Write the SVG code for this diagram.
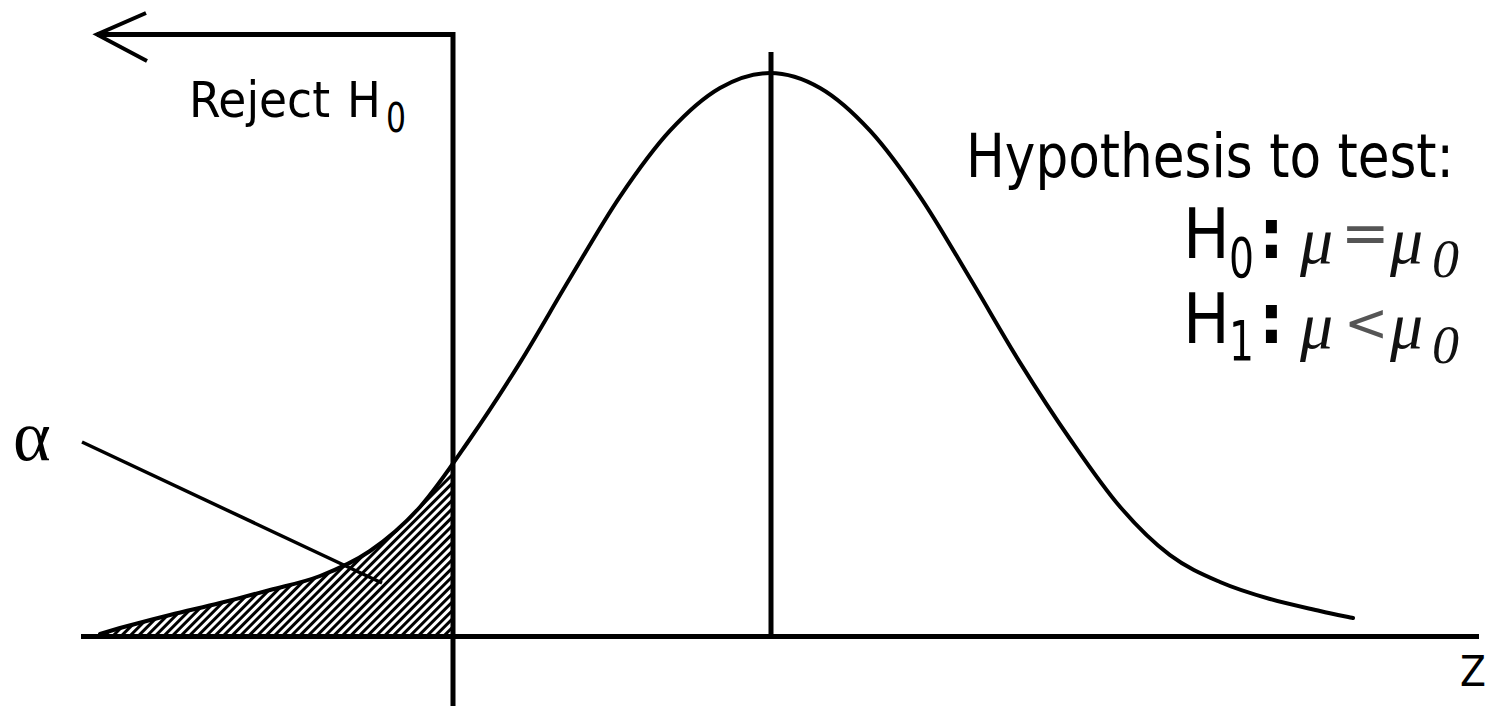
<svg xmlns="http://www.w3.org/2000/svg" width="1488" height="706" viewBox="0 0 1488 706">
<style>
.ln{stroke:#000;stroke-width:5;fill:none;stroke-linecap:butt}
.crv{stroke:#000;stroke-width:4;fill:none;stroke-linejoin:round;stroke-linecap:round}
.sans{font-family:"DejaVu Sans Condensed","DejaVu Sans","Liberation Sans",sans-serif;fill:#000}
.ser{font-family:"Liberation Serif","DejaVu Serif",serif;fill:#000}
.it{font-family:"Liberation Serif","DejaVu Serif",serif;font-style:italic;fill:#111}
.op{font-family:"DejaVu Sans","Liberation Sans",sans-serif;fill:#555}
</style>
<defs>
<pattern id="hatch" width="6" height="6" patternUnits="userSpaceOnUse" patternTransform="rotate(45)">
<rect width="6" height="6" fill="#fff"/>
<rect width="3" height="6" fill="#000"/>
</pattern>
<clipPath id="leftTail"><rect x="90" y="400" width="363" height="236"/></clipPath>
</defs>
<rect width="1488" height="706" fill="#fff"/>
<g id="tail-area">
<path clip-path="url(#leftTail)" fill="url(#hatch)" d="M100,634 L120,628 C131.7,624.8 153.3,619.2 170,615 C186.7,610.8 203.3,607.2 220,603 C236.7,598.8 253.3,594.5 270,590 C286.7,585.5 303.3,582.5 320,576 C336.7,569.5 353.3,562.5 370,551 C386.7,539.5 403.3,525.7 420,507 C436.7,488.3 453.3,463.1 470,439 L470,636 L100,636 Z"/>
</g>
<g id="axes">
<line class="ln" x1="81" y1="636.5" x2="1479" y2="636.5"/>
<line class="ln" x1="453" y1="32" x2="453" y2="706"/>
<line class="ln" x1="771" y1="52" x2="771" y2="636"/>
</g>
<g id="curve">
<path class="crv" d="M100,634 L120,628 C131.7,624.8 153.3,619.2 170,615 C186.7,610.8 203.3,607.2 220,603 C236.7,598.8 253.3,594.5 270,590 C286.7,585.5 303.3,582.5 320,576 C336.7,569.5 353.3,562.5 370,551 C386.7,539.5 403.3,525.7 420,507 C436.7,488.3 453.3,463.1 470,439 C486.7,414.9 503.3,389.4 520,362.6 C536.7,335.8 553.3,306 570,278.3 C586.7,250.6 603.3,221.2 620,196.6 C636.7,172 653.3,148.8 670,130.7 C686.7,112.6 703.3,97.6 720,88 C736.7,78.4 753.3,73 770,73 C786.7,73 803.3,78.4 820,88 C836.7,97.6 853.3,112.6 870,130.7 C886.7,148.8 903.3,172 920,196.6 C936.7,221.2 953.3,250.6 970,278.3 C986.7,306 1003.3,335.8 1020,362.6 C1036.7,389.4 1053.3,415 1070,439 C1086.7,463 1103.3,487.4 1120,506.8 C1136.7,526.2 1153.3,542.7 1170,555.2 C1186.7,567.7 1203.3,574.7 1220,582 C1236.7,589.3 1253.3,594.2 1270,599 C1286.7,603.8 1306.2,607.8 1320,611 C1333.8,614.2 1347.5,616.8 1353,618"/>
</g>
<g id="connectors">
<polyline class="ln" points="455,34.5 97,34.5"/>
<polyline class="crv" points="146,13 97,34.5 147,61" style="stroke-linecap:butt;stroke-linejoin:miter"/>
<line x1="82" y1="442" x2="382" y2="583" stroke="#000" stroke-width="3.5"/>
</g>
<g id="reject-label">
<text class="sans" x="189" y="117" font-size="50" textLength="141" lengthAdjust="spacingAndGlyphs">Reject</text>
<text class="sans" x="347" y="117" font-size="50">H</text>
<text class="sans" x="386" y="132" font-size="40" textLength="20" lengthAdjust="spacingAndGlyphs">0</text>
</g>
<g id="alpha-label">
<text class="ser" x="13" y="460" font-size="72">α</text>
</g>
<g id="z-label">
<text class="sans" x="1460" y="686" font-size="42">Z</text>
</g>
<g id="hypothesis">
<text class="sans" x="966" y="177" font-size="60" textLength="488" lengthAdjust="spacingAndGlyphs">Hypothesis to test:</text>
<text class="sans" x="1183" y="258" font-size="69">H</text>
<text class="sans" x="1229" y="277" font-size="56" textLength="25" lengthAdjust="spacingAndGlyphs">0</text>
<text class="sans" x="1259" y="258" font-size="69" font-weight="bold">:</text>
<text class="it" x="1300" y="263" font-size="66">μ</text>
<text class="op" x="1341" y="253" font-size="58">=</text>
<text class="it" x="1390" y="263" font-size="66">μ</text>
<text class="it" x="1432" y="277" font-size="54">0</text>
<text class="sans" x="1183" y="343" font-size="69">H</text>
<text class="sans" x="1229" y="360" font-size="56" textLength="25" lengthAdjust="spacingAndGlyphs">1</text>
<text class="sans" x="1259" y="343" font-size="69" font-weight="bold">:</text>
<text class="it" x="1300" y="348" font-size="66">μ</text>
<text class="op" x="1344" y="341" font-size="53">&lt;</text>
<text class="it" x="1390" y="348" font-size="66">μ</text>
<text class="it" x="1432" y="363" font-size="54">0</text>
</g>
</svg>
